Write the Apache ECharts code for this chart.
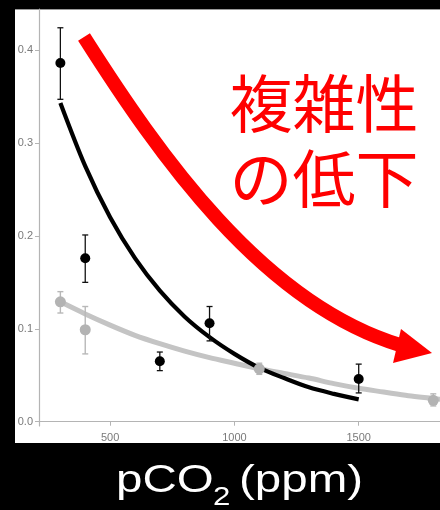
<!DOCTYPE html>
<html>
<head>
<meta charset="utf-8">
<script src="https://cdn.jsdelivr.net/npm/echarts@6/dist/echarts.min.js"></script>
<style>
  html, body { margin: 0; padding: 0; background: #000; }
  #chart { width: 440px; height: 510px; }
</style>
</head>
<body>
<div id="chart"></div>
<script>
// Observed means with error bars (low / high), high-complexity group
const blackX    = [300, 400, 700, 900, 1500];
const blackMean = [0.386, 0.176, 0.065, 0.106, 0.046];
const blackLow  = [0.347, 0.150, 0.055, 0.087, 0.031];
const blackHigh = [0.424, 0.201, 0.075, 0.124, 0.062];

// Observed means with error bars, grey group
const greyX    = [300, 400, 1100, 1800];
const greyMean = [0.129, 0.099, 0.057, 0.023];
const greyLow  = [0.117, 0.073, 0.051, 0.017];
const greyHigh = [0.140, 0.124, 0.063, 0.030];

// Fitted trend curves
const blackFitX = [300, 400, 500, 600, 700, 800, 900, 1000, 1100, 1200, 1300, 1400, 1500];
const blackFitY = [0.343, 0.275, 0.220, 0.176, 0.141, 0.113, 0.091, 0.073, 0.058, 0.047, 0.037, 0.030, 0.024];
const greyFitX = [300, 400, 500, 600, 700, 800, 900, 1000, 1100, 1200, 1300, 1400, 1500, 1600, 1700, 1800, 1830];
const greyFitY = [0.129, 0.116, 0.104, 0.093, 0.084, 0.076, 0.069, 0.063, 0.057, 0.052, 0.047, 0.041, 0.036, 0.032, 0.028, 0.025, 0.024];

// Axis ticks
const xTicks = [500, 1000, 1500];
const yTicks = [0.0, 0.1, 0.2, 0.3, 0.4];

const zip = (xs, ys) => xs.map((x, i) => [x, ys[i]]);

function errorBars(xs, lo, hi, color, width, cap) {
  return {
    type: 'custom',
    z: 3,
    silent: true,
    data: xs.map((x, i) => [x, lo[i], hi[i]]),
    renderItem: function (params, api) {
      const p1 = api.coord([api.value(0), api.value(1)]);
      const p2 = api.coord([api.value(0), api.value(2)]);
      const st = { stroke: color, lineWidth: width };
      return {
        type: 'group',
        children: [
          { type: 'line', shape: { x1: p1[0], y1: p1[1], x2: p2[0], y2: p2[1] }, style: st },
          { type: 'line', shape: { x1: p1[0] - cap, y1: p1[1], x2: p1[0] + cap, y2: p1[1] }, style: st },
          { type: 'line', shape: { x1: p2[0] - cap, y1: p2[1], x2: p2[0] + cap, y2: p2[1] }, style: st }
        ]
      };
    }
  };
}

const chart = echarts.init(document.getElementById('chart'), null, { renderer: 'canvas' });

const tickLabelStyle = { color: '#7a7a7a', fontSize: 11, fontFamily: 'Liberation Sans, Arial, sans-serif' };
const axisGrey = '#b4b4b4';
const titleFont = 'Liberation Sans, Arial, sans-serif';

chart.setOption({
  backgroundColor: '#000',
  animation: false,
  grid: { left: 39, right: 0, top: 9, bottom: 84, containLabel: false },
  xAxis: {
    type: 'value',
    min: 214,
    max: 1827,
    axisLine: { show: true, lineStyle: { color: axisGrey, width: 1.2 } },
    axisTick: { show: true, length: 4, lineStyle: { color: axisGrey }, customValues: xTicks },
    axisLabel: Object.assign({ margin: 6, customValues: xTicks, formatter: v => String(v) }, tickLabelStyle),
    splitLine: { show: false }
  },
  yAxis: {
    type: 'value',
    min: -0.0046,
    max: 0.4442,
    axisLine: { show: true, lineStyle: { color: axisGrey, width: 1.2 } },
    axisTick: { show: true, length: 4, lineStyle: { color: axisGrey }, customValues: yTicks },
    axisLabel: Object.assign({
      margin: 6,
      customValues: yTicks,
      formatter: v => v.toFixed(1)
    }, tickLabelStyle),
    splitLine: { show: false }
  },
  series: [
    {
      type: 'line', z: 2, data: zip(greyFitX, greyFitY), smooth: 0.3,
      showSymbol: false, lineStyle: { color: '#c4c4c4', width: 5 }
    },
    {
      type: 'line', z: 2, data: zip(blackFitX, blackFitY), smooth: 0.3,
      showSymbol: false, lineStyle: { color: '#000', width: 4.2 }
    },
    errorBars(greyX, greyLow, greyHigh, '#b8b8b8', 1.4, 3),
    errorBars(blackX, blackLow, blackHigh, '#111', 1.3, 3),
    {
      type: 'scatter', z: 4, data: zip(greyX, greyMean), symbolSize: 11,
      itemStyle: { color: '#b3b3b3', opacity: 1 }
    },
    {
      type: 'scatter', z: 4, data: zip(blackX, blackMean), symbolSize: 10,
      itemStyle: { color: '#000', opacity: 1 }
    }
  ],
  graphic: [
    // white panel behind the plot
    { type: 'rect', z: -10, silent: true, shape: { x: 15, y: 9, width: 425, height: 434 }, style: { fill: '#fff' } },
    { type: 'line', z: -9, silent: true, shape: { x1: 15, y1: 9.5, x2: 440, y2: 9.5 }, style: { stroke: '#999', lineWidth: 1 } },
    // downward trend arrow
    {
      type: 'bezierCurve', z: 100, silent: true,
      shape: { x1: 84, y1: 37, cpx1: 159, cpy1: 155, cpx2: 262, cpy2: 303, x2: 400, y2: 345 },
      style: { stroke: '#ff0000', lineWidth: 14, fill: null, lineCap: 'butt' }
    },
    {
      type: 'polygon', z: 100, silent: true,
      shape: { points: [[401, 329], [432, 353], [393, 363]] },
      style: { fill: '#ff0000' }
    },
    {
      type: 'text', z: 100, silent: true, x: 324, y: 66,
      style: {
        text: '複雑性\nの低下', fill: '#ff0000', fontSize: 63, lineHeight: 75,
        fontFamily: 'Noto Sans CJK JP', textAlign: 'center', textVerticalAlign: 'top'
      }
    },
    // axis title
    {
      type: 'text', silent: true, x: 116, y: 481.5, scaleX: 1.25,
      style: { text: 'pCO', fill: '#fff', fontSize: 38, fontFamily: titleFont, textAlign: 'left', textVerticalAlign: 'middle' }
    },
    {
      type: 'text', silent: true, x: 213, y: 497.5, scaleX: 1.2,
      style: { text: '2', fill: '#fff', fontSize: 26, fontFamily: titleFont, textAlign: 'left', textVerticalAlign: 'middle' }
    },
    {
      type: 'text', silent: true, x: 239, y: 481.5, scaleX: 1.25,
      style: { text: '(ppm)', fill: '#fff', fontSize: 38, fontFamily: titleFont, textAlign: 'left', textVerticalAlign: 'middle' }
    }
  ]
});
</script>
</body>
</html>
